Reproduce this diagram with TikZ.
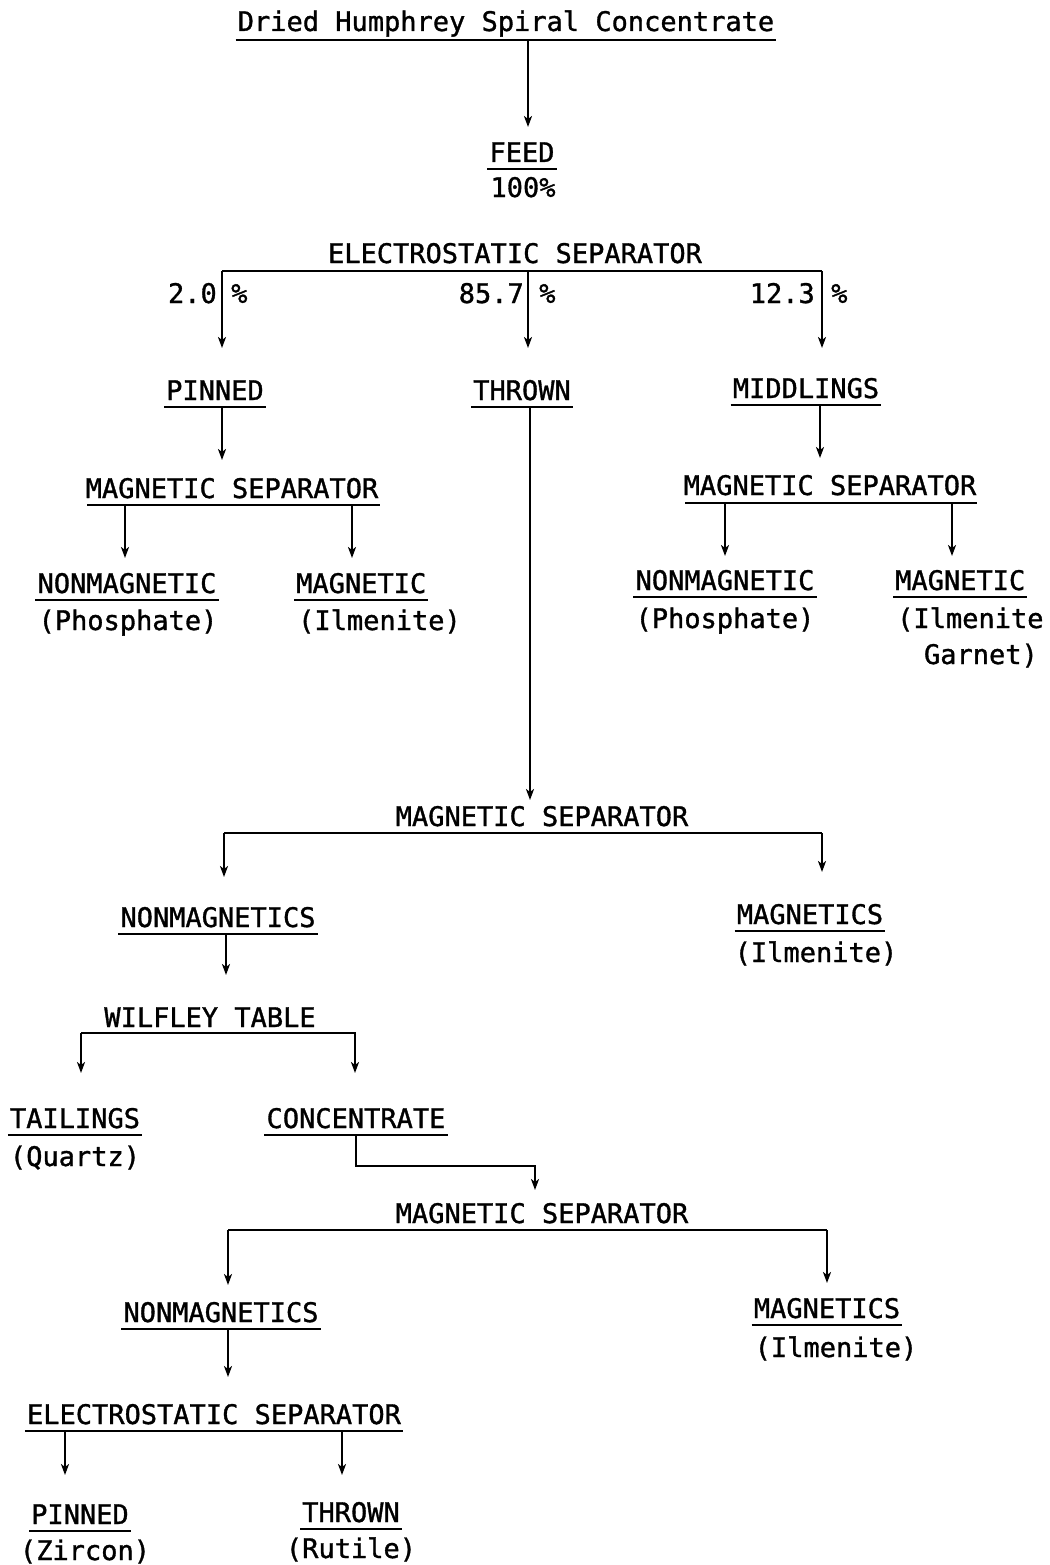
\documentclass[tikz,border=0pt]{standalone}
\usepackage{fontspec}
\setmonofont[FakeBold=1.2]{DejaVu Sans Mono}
\usetikzlibrary{arrows.meta}
\begin{document}
\begin{tikzpicture}[x=1pt,y=-1pt,
  lbl/.style={font=\ttfamily\fontsize{27}{30}\selectfont, inner sep=0pt, anchor=base},
  ul/.style={lbl, text depth=0pt, inner xsep=2pt, inner ysep=7pt},
  ln/.style={line width=2.2pt},
  arr/.style={line width=2.2pt, -{Stealth[length=11pt,width=8pt,inset=3pt]}}]
\useasboundingbox (0,0) rectangle (1049,1565);

% ---------- top ----------
\node[ul, inner ysep=9pt] (title) at (506,31) {Dried Humphrey Spiral Concentrate};
\coordinate (feedt) at (528,127);
\draw[arr] (title.south -| feedt) -- (feedt);
\node[ul] (feed) at (522,162) {FEED};
\node[lbl] (feedp) at (523,197) {100\%};

% ---------- electrostatic separator 1 ----------
\node[lbl] (es1) at (515,263) {ELECTROSTATIC SEPARATOR};
\coordinate (b1l) at (222,271);
\coordinate (b1m) at (528,271);
\coordinate (b1r) at (822,271);
\draw[ln] (b1l) -- (b1r);
\coordinate (p1t) at (222,348);
\coordinate (p2t) at (528,348);
\coordinate (p3t) at (822,348);
\draw[arr] (b1l) -- (p1t);
\draw[arr] (b1m) -- (p2t);
\draw[arr] (b1r) -- (p3t);
\node[lbl, anchor=base east] (pc1) at (217,303) {2.0};
\node[lbl, anchor=base west] (pc1s) at (231,303) {\%};
\node[lbl, anchor=base east] (pc2) at (524,303) {85.7};
\node[lbl, anchor=base west] (pc2s) at (539,303) {\%};
\node[lbl, anchor=base east] (pc3) at (815,303) {12.3};
\node[lbl, anchor=base west] (pc3s) at (831,303) {\%};

\node[ul] (pinned) at (215,400) {PINNED};
\node[ul] (thrown) at (522,400) {THROWN};
\node[ul] (midd) at (806,398) {MIDDLINGS};

% ---------- left magnetic separator ----------
\coordinate (ms1t) at (222,460);
\draw[arr] (pinned.south -| ms1t) -- (ms1t);
\node[lbl] (ms1) at (232,498) {MAGNETIC SEPARATOR};
\coordinate (b2l) at (87,505);
\coordinate (b2r) at (380,505);
\draw[ln] (b2l) -- (b2r);
\coordinate (nm1t) at (125,558);
\coordinate (mg1t) at (352,558);
\draw[arr] (nm1t |- b2l) -- (nm1t);
\draw[arr] (mg1t |- b2l) -- (mg1t);
\node[ul] (nm1) at (127,593) {NONMAGNETIC};
\node[lbl] (nm1b) at (128,630) {(Phosphate)};
\node[ul, anchor=base west] (mg1) at (294,593) {MAGNETIC};
\node[lbl, anchor=base west] (mg1b) at (298,630) {(Ilmenite)};

% ---------- right magnetic separator ----------
\coordinate (ms2t) at (820,458);
\draw[arr] (midd.south -| ms2t) -- (ms2t);
\node[lbl] (ms2) at (830,495) {MAGNETIC SEPARATOR};
\coordinate (b3l) at (685,503);
\coordinate (b3r) at (977,503);
\draw[ln] (b3l) -- (b3r);
\coordinate (nm2t) at (725,556);
\coordinate (mg2t) at (952,556);
\draw[arr] (nm2t |- b3l) -- (nm2t);
\draw[arr] (mg2t |- b3l) -- (mg2t);
\node[ul] (nm2) at (725,590) {NONMAGNETIC};
\node[lbl] (nm2b) at (725,628) {(Phosphate)};
\node[ul, anchor=base west] (mg2) at (893,590) {MAGNETIC};
\node[lbl, anchor=base west] (mg2b) at (897,628) {(Ilmenite};
\node[lbl, anchor=base east] (mg2c) at (1038,664) {Garnet)};

% ---------- middle magnetic separator ----------
\coordinate (ms3t) at (530,800);
\draw[arr] (thrown.south -| ms3t) -- (ms3t);
\node[lbl] (ms3) at (542,826) {MAGNETIC SEPARATOR};
\coordinate (b4l) at (224,833);
\coordinate (b4r) at (822,833);
\draw[ln] (b4l) -- (b4r);
\coordinate (nms1t) at (224,877);
\coordinate (mgs1t) at (822,872);
\draw[arr] (b4l) -- (nms1t);
\draw[arr] (b4r) -- (mgs1t);
\node[ul] (nms1) at (218,927) {NONMAGNETICS};
\node[ul] (mgs1) at (810,924) {MAGNETICS};
\node[lbl] (mgs1b) at (816,962) {(Ilmenite)};

% ---------- wilfley table ----------
\coordinate (wtt) at (226,975);
\draw[arr] (nms1.south -| wtt) -- (wtt);
\node[lbl] (wt) at (210,1027) {WILFLEY TABLE};
\coordinate (b5l) at (81,1033);
\coordinate (b5r) at (356,1033);
\draw[ln] (b5l) -- (b5r);
\coordinate (tailt) at (81,1073);
\coordinate (conct) at (355,1073);
\draw[arr] (b5l) -- (tailt);
\draw[arr] (conct |- b5r) -- (conct);
\node[ul] (tail) at (75,1128) {TAILINGS};
\node[lbl] (tailb) at (75,1166) {(Quartz)};
\node[ul] (conc) at (356,1128) {CONCENTRATE};

% ---------- lower magnetic separator ----------
\coordinate (cb) at (356,1166);
\coordinate (ms4t) at (535,1190);
\draw[arr] (conc.south) -- (cb) -- (cb -| ms4t) -- (ms4t);
\node[lbl] (ms4) at (542,1223) {MAGNETIC SEPARATOR};
\coordinate (b6l) at (228,1230);
\coordinate (b6r) at (827,1230);
\draw[ln] (b6l) -- (b6r);
\coordinate (nms2t) at (228,1285);
\coordinate (mgs2t) at (827,1283);
\draw[arr] (b6l) -- (nms2t);
\draw[arr] (b6r) -- (mgs2t);
\node[ul] (nms2) at (221,1322) {NONMAGNETICS};
\node[ul] (mgs2) at (827,1318) {MAGNETICS};
\node[lbl] (mgs2b) at (836,1357) {(Ilmenite)};

% ---------- electrostatic separator 2 ----------
\coordinate (es2t) at (228,1377);
\draw[arr] (nms2.south -| es2t) -- (es2t);
\node[ul] (es2) at (214,1424) {ELECTROSTATIC SEPARATOR};
\coordinate (pin2t) at (65,1475);
\coordinate (thr2t) at (342,1475);
\draw[arr] (es2.south -| pin2t) -- (pin2t);
\draw[arr] (es2.south -| thr2t) -- (thr2t);
\node[ul] (pin2) at (80,1524) {PINNED};
\node[lbl] (pin2b) at (85,1560) {(Zircon)};
\node[ul] (thr2) at (351,1522) {THROWN};
\node[lbl] (thr2b) at (351,1558) {(Rutile)};

% ---------- underlines ----------
\foreach \n in {title,feed,pinned,thrown,midd,nm1,mg1,nm2,mg2,nms1,mgs1,tail,conc,nms2,mgs2,es2,pin2,thr2}
  \draw[ln] (\n.south west) -- (\n.south east);
\end{tikzpicture}
\end{document}
